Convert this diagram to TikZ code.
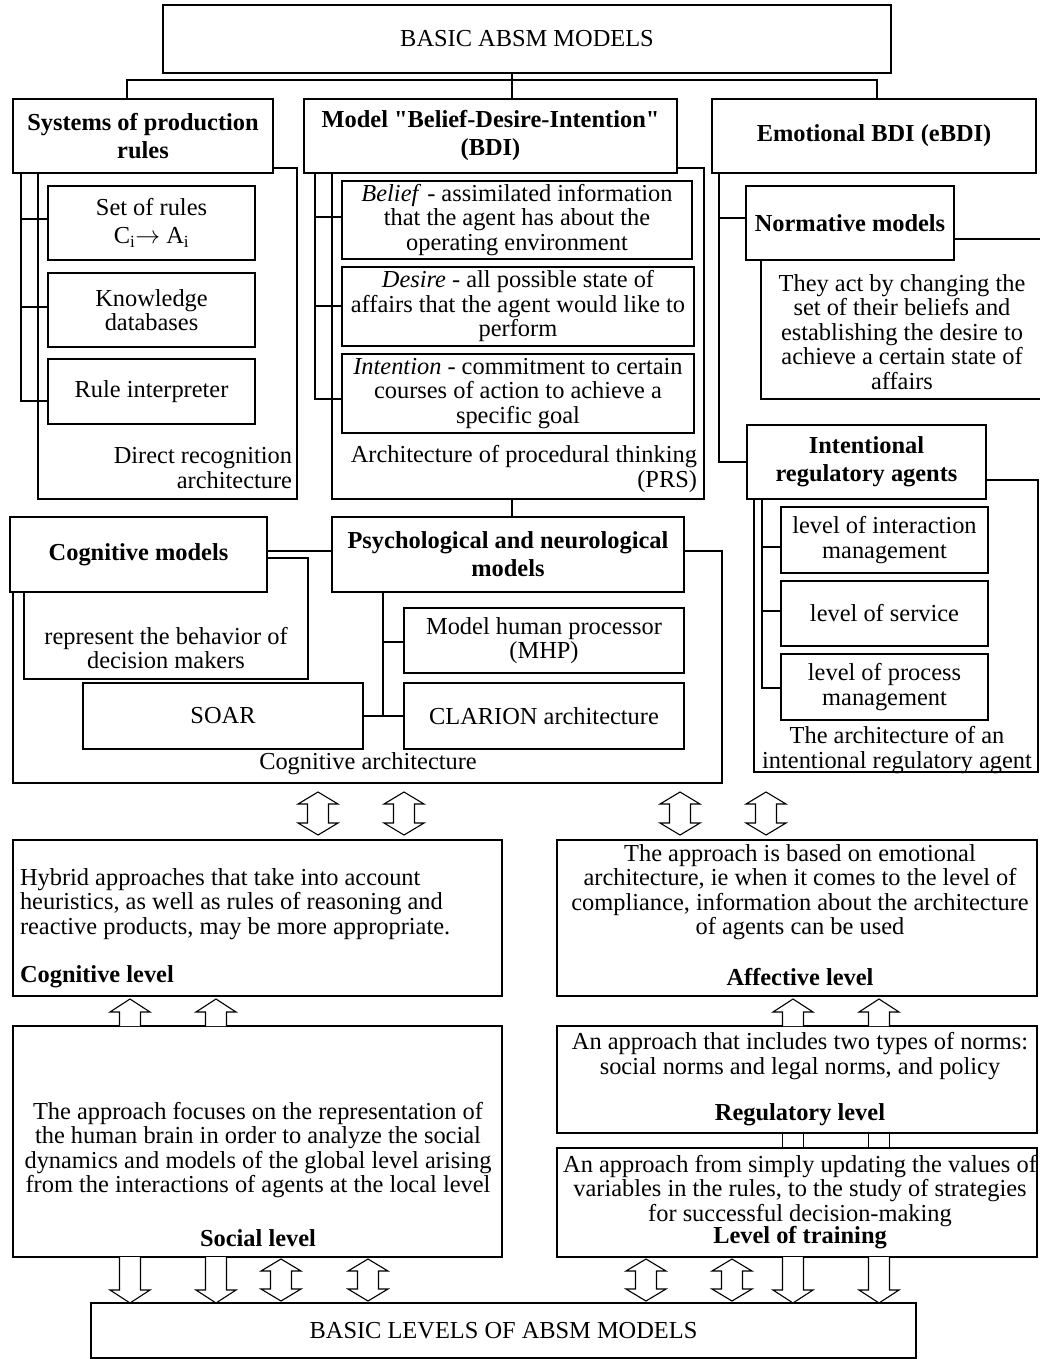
\documentclass[tikz,border=0pt]{standalone}
\usepackage{fontspec}
\setmainfont{Liberation Serif}
\newcommand\bx[6]{\node[bxs,minimum width={(#4)-(#2)},minimum height={(#5)-(#3)}] (#1) at (#2,#3) {#6};}
\newcommand\bbx[6]{\node[bxs,bf,minimum width={(#4)-(#2)},minimum height={(#5)-(#3)}] (#1) at (#2,#3) {#6};}
\newcommand\ctr[5]{\node[cts,minimum width={(#4)-(#2)},minimum height={(#5)-(#3)}] (#1) at (#2,#3) {};}
\newcommand\dblar[3]{\draw[arr] (#1,#2) -- (#1+20,#2+12) -- (#1+10.5,#2+12) -- (#1+10.5,#3-12) -- (#1+20,#3-12) -- (#1,#3) -- (#1-20,#3-12) -- (#1-10.5,#3-12) -- (#1-10.5,#2+12) -- (#1-20,#2+12) -- cycle;}
\newcommand\upar[3]{\draw[arr] (#1-10.5,#3) -- (#1-10.5,#2+13) -- (#1-20,#2+13) -- (#1,#2) -- (#1+20,#2+13) -- (#1+10.5,#2+13) -- (#1+10.5,#3);}
\newcommand\dnar[3]{\draw[arr] (#1-10.5,#2) -- (#1-10.5,#3-13) -- (#1-20,#3-13) -- (#1,#3) -- (#1+20,#3-13) -- (#1+10.5,#3-13) -- (#1+10.5,#2);}
\begin{document}
\begin{tikzpicture}[x=1pt,y=-1pt,line width=1.2pt,
  font=\fontsize{24.4}{24.5}\selectfont,
  bxs/.style={draw,fill=white,inner sep=0pt,outer sep=0pt,align=center,anchor=north west},
  bf/.style={font=\fontsize{24.4}{28}\selectfont\bfseries},
  cts/.style={draw,inner sep=0pt,outer sep=0pt,anchor=north west},
  txt/.style={inner sep=0pt,outer sep=0pt},
  arr/.style={draw,fill=white,line width=1.1pt,line join=miter}]
\useasboundingbox (0,0) rectangle (1040,1359);
% containers
\ctr{syscont}{38}{168}{297}{499}
\ctr{bdicont}{332}{168}{704}{499}
\ctr{normcont}{761}{239}{1042}{399}
\ctr{iracont}{754}{480}{1038}{772}
\ctr{cogarch}{13}{551}{722}{783}
\ctr{repcont}{24}{558}{308}{679}
% boxes
\bx{top}{163}{5}{891}{73}{BASIC ABSM MODELS}
\bbx{sys}{13}{99}{273}{173}{Systems of production\\rules}
\bbx{bdi}{304}{99}{677}{173}{Model \textquotedbl Belief-Desire-Intention\textquotedbl\\(BDI)}
\bbx{ebdi}{712}{99}{1036}{173}{Emotional BDI (eBDI)}
\bx{rules}{48}{186}{255}{260}{Set of rules\\[3pt]C\textsubscript{i}$\rightarrow$ A\textsubscript{i}}
\bx{know}{48}{273}{255}{347}{Knowledge\\databases}
\bx{interp}{48}{359}{255}{424}{Rule interpreter}
\bx{belief}{342}{181}{692}{259}{\textit{Belief} - assimilated information\\that the agent has about the\\operating environment}
\bx{desire}{342}{267}{694}{346}{\textit{Desire} - all possible state of\\affairs that the agent would like to\\perform}
\bx{intent}{342}{354}{694}{433}{\textit{Intention} - commitment to certain\\courses of action to achieve a\\specific goal}
\bbx{norm}{746}{186}{954}{260}{Normative models}
\bbx{ira}{747}{425}{986}{499}{Intentional\\regulatory agents}
\bx{lint}{781}{507}{988}{573}{level of interaction\\management}
\bx{lserv}{781}{581}{988}{646}{level of service}
\bx{lproc}{781}{654}{988}{720}{level of process\\management}
\bbx{cogm}{10}{517}{267}{592}{Cognitive models}
\bbx{psy}{332}{517}{684}{592}{Psychological and neurological\\models}
\bx{mhp}{404}{608}{684}{673}{Model human processor\\(MHP)}
\bx{clar}{404}{683}{684}{749}{CLARION architecture}
\bx{soar}{83}{683}{363}{749}{SOAR}
\bx{coglev}{13}{840}{502}{996}{}
\bx{afflev}{557}{840}{1037}{996}{}
\bx{soclev}{13}{1026}{502}{1257}{}
\bx{reglev}{557}{1026}{1037}{1133}{}
\bx{trlev}{557}{1148}{1037}{1257}{}
\bx{basic}{91}{1303}{916}{1358}{BASIC LEVELS OF ABSM MODELS}
% free texts
\node[txt,align=right,anchor=east] (t1) at (292,468) {Direct recognition\\architecture};
\node[txt,align=right,anchor=east] (t2) at (697,469) {Architecture of procedural thinking\\(PRS)};
\node[txt,align=center] (t3) at (902,332) {They act by changing the\\set of their beliefs and\\establishing the desire to\\achieve a certain state of\\affairs};
\node[txt,align=center] (t4) at (897,750) {The architecture of an\\intentional regulatory agent};
\node[txt,align=center] (t5) at (166,648) {represent the behavior of\\decision makers};
\node[txt] (t6) at (368,764) {Cognitive architecture};
\node[txt,align=left,anchor=west] (t7) at (20,904) {Hybrid approaches that take into account\\heuristics, as well as rules of reasoning and\\reactive products, may be more appropriate.};
\node[txt,bf,anchor=west] (t8) at (20,977) {Cognitive level};
\node[txt,align=center] (t9) at (800,892) {The approach is based on emotional\\architecture, ie when it comes to the level of\\compliance, information about the architecture\\of agents can be used};
\node[txt,bf] (t10) at (800,977) {Affective level};
\node[txt,align=center] (t11) at (800,1056) {An approach that includes two types of norms:\\social norms and legal norms, and policy};
\node[txt,bf] (t12) at (800,1115) {Regulatory level};
\node[txt,align=center] (t13) at (800,1191) {An approach from simply updating the values of\\variables in the rules, to the study of strategies\\for successful decision-making};
\node[txt,bf] (t14) at (800,1238) {Level of training};
\node[txt,align=center] (t15) at (258,1150) {The approach focuses on the representation of\\the human brain in order to analyze the social\\dynamics and models of the global level arising\\from the interactions of agents at the local level};
\node[txt,bf] (t16) at (258,1238) {Social level};
% tree connectors
\draw (512,0 |- top.south) -- (512,80);
\draw (127,0 |- sys.north) -- (127,80) -- (877,80) -- (877,0 |- ebdi.north);
\draw (512,80) -- (512,0 |- bdi.north);
% systems
\draw (21,0 |- sys.south) -- (21,401) -- (interp.west |- 0,401);
\draw (21,219) -- (rules.west |- 0,219);
\draw (21,307) -- (know.west |- 0,307);
% bdi
\draw (315,0 |- bdi.south) -- (315,399) -- (intent.west |- 0,399);
\draw (315,217) -- (belief.west |- 0,217);
\draw (315,306) -- (desire.west |- 0,306);
\draw (512,0 |- bdicont.south) -- (512,0 |- psy.north);
% ebdi
\draw (719,0 |- ebdi.south) -- (719,462) -- (ira.west |- 0,462);
\draw (719,218) -- (norm.west |- 0,218);
\draw (762,0 |- ira.south) -- (762,688) -- (lproc.west |- 0,688);
\draw (762,547) -- (lint.west |- 0,547);
\draw (762,611) -- (lserv.west |- 0,611);
% psych
\draw (383,0 |- psy.south) -- (383,716) -- (clar.west |- 0,716);
\draw (383,642) -- (mhp.west |- 0,642);
\draw (soar.east |- 0,716) -- (383,716);
% arrows
\dblar{318}{792}{835}
\dblar{404}{792}{835}
\dblar{680}{792}{835}
\dblar{766}{792}{835}
\upar{130}{999}{1026}
\upar{216}{999}{1026}
\upar{793}{999}{1026}
\upar{879}{999}{1026}
\draw (782.5,1133) -- (782.5,1148) (803.5,1133) -- (803.5,1148);
\draw (868.5,1133) -- (868.5,1148) (889.5,1133) -- (889.5,1148);
\dnar{130}{1257}{1303}
\dnar{216}{1257}{1303}
\dblar{281}{1259}{1301}
\dblar{368}{1259}{1301}
\dblar{646}{1259}{1301}
\dblar{732}{1259}{1301}
\dnar{793}{1257}{1303}
\dnar{879}{1257}{1303}
\end{tikzpicture}
\end{document}
